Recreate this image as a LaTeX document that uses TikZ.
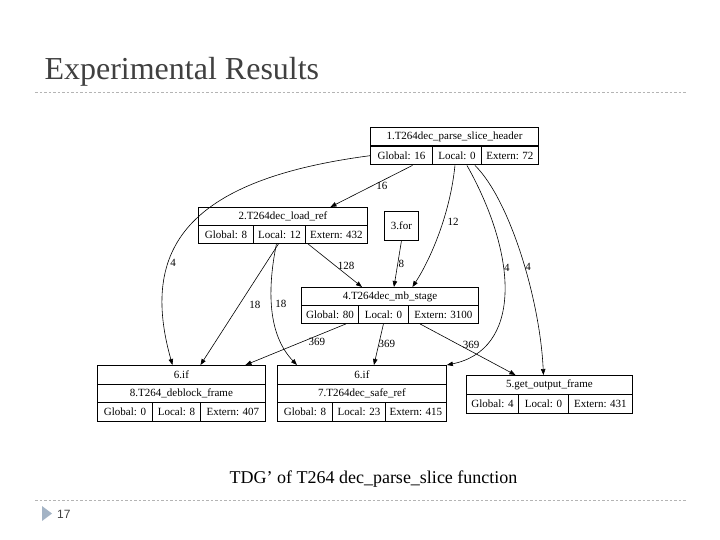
\documentclass[tikz,border=0pt]{standalone}
\usepackage{fontspec}
\setmainfont{Liberation Serif}
\setsansfont{Liberation Sans}
\usetikzlibrary{arrows.meta, positioning, calc}
\definecolor{titlegray}{HTML}{404040}
\definecolor{rulegray}{HTML}{B4B4B4}
\definecolor{bulletblue}{HTML}{A3B3C5}

\begin{document}
\begin{tikzpicture}[x=1pt, y=-1pt, font=\fontsize{11}{12}\selectfont,
  cell/.style={draw, line width=0.9pt, inner sep=0pt, anchor=north west, minimum height=18.5pt},
  a/.style={-{Triangle[length=6pt, width=4.5pt]}, line width=0.6pt, draw=black},
  lb/.style={inner sep=1.5pt},
  rule/.style={draw=rulegray, line width=0.8pt, dash pattern=on 2.5pt off 2pt}]
  \useasboundingbox (0,0) rectangle (720,540);
  \node[anchor=base west, text=titlegray, font=\fontsize{32}{36}\selectfont] (title) at (41,80) {Experimental Results};
  \draw[rule] (35,92) -- (687,92);
  % 1.T264dec_parse_slice_header
  \node[cell, minimum width=168pt] (hdr1) at (370,127) {1.T264dec\_parse\_slice\_header};
  \node[cell, minimum width=62pt] (g1) at (370,146) {Global: 16};
  \node[cell, minimum width=49pt] (l1) at (432,146) {Local: 0};
  \node[cell, minimum width=57pt] (e1) at (481,146) {Extern: 72};
  % 2.T264dec_load_ref
  \node[cell, minimum width=169pt, minimum height=18pt] (hdr2) at (198,207) {2.T264dec\_load\_ref};
  \node[cell, minimum width=55pt, minimum height=18pt] (g2) at (198,225) {Global: 8};
  \node[cell, minimum width=52pt, minimum height=18pt] (l2) at (253,225) {Local: 12};
  \node[cell, minimum width=62pt, minimum height=18pt] (e2) at (305,225) {Extern: 432};
  % 3.for
  \node[cell, minimum width=34pt, minimum height=29pt] (for3) at (384,211) {3.for};
  % 4.T264dec_mb_stage
  \node[cell, minimum width=177pt, minimum height=18pt] (hdr4) at (301,287) {4.T264dec\_mb\_stage};
  \node[cell, minimum width=57pt, minimum height=18pt] (g4) at (301,305) {Global: 80};
  \node[cell, minimum width=50pt, minimum height=18pt] (l4) at (358,305) {Local: 0};
  \node[cell, minimum width=70pt, minimum height=18pt] (e4) at (408,305) {Extern: 3100};
  % 6.if / 8.T264_deblock_frame
  \node[cell, minimum width=168pt] (if8) at (97,365) {6.if};
  \node[cell, minimum width=168pt] (blk8) at (97,383.5) {8.T264\_deblock\_frame};
  \node[cell, minimum width=55pt] (g8) at (97,402) {Global: 0};
  \node[cell, minimum width=48pt] (l8) at (152,402) {Local: 8};
  \node[cell, minimum width=65pt] (e8) at (200,402) {Extern: 407};
  % 6.if / 7.T264dec_safe_ref
  \node[cell, minimum width=169pt] (if7) at (277,365) {6.if};
  \node[cell, minimum width=169pt] (ref7) at (277,383.5) {7.T264dec\_safe\_ref};
  \node[cell, minimum width=55pt] (g7) at (277,402) {Global: 8};
  \node[cell, minimum width=53pt] (l7) at (332,402) {Local: 23};
  \node[cell, minimum width=61pt] (e7) at (385,402) {Extern: 415};
  % 5.get_output_frame
  \node[cell, minimum width=166pt, minimum height=19pt] (hdr5) at (466,375) {5.get\_output\_frame};
  \node[cell, minimum width=52pt, minimum height=19pt] (g5) at (466,394) {Global: 4};
  \node[cell, minimum width=50pt, minimum height=19pt] (l5) at (518,394) {Local: 0};
  \node[cell, minimum width=64pt, minimum height=19pt] (e5) at (568,394) {Extern: 431};
  % edges
  \draw[a] ([xshift=11pt]g1.south) -- node[lb, pos=0.5, right=3pt] {16} ([xshift=47.5pt]hdr2.north);
  \draw[a] (g1.west) .. controls (185,180) and (140,250) .. node[lb, pos=0.66, right=0pt] {4} ([xshift=-9pt]if8.north);
  \draw[a] ([xshift=-2pt]l1.south) .. controls (450,215) and (430,260) .. node[lb, pos=0.4, right=3pt] {12} ([xshift=22.5pt]hdr4.north);
  \draw[a] ([xshift=10pt]l1.south) .. controls (520,260) and (520,350) .. node[lb, pos=0.38, right=-1pt] {4} (if7.north east);
  \draw[a] ([xshift=18pt]l1.south) .. controls (510,200) and (540,300) .. node[lb, pos=0.55, right=-1pt] {4} ([xshift=-6pt]hdr5.north);
  \draw[a] ([xshift=-1pt]l2.south) -- node[lb, pos=0.5, right=8pt] {18} ([xshift=19pt]if8.north);
  \draw[a] ([xshift=-3pt]l2.south) .. controls (267,290) and (268,335) .. node[lb, pos=0.45, right=2pt] {18} ([xshift=-65pt]if7.north);
  \draw[a] ([xshift=3pt]e2.south west) -- node[lb, pos=0.5, right=1pt] {128} ([xshift=-28pt]hdr4.north);
  \draw[a] (for3.south) -- node[lb, pos=0.5, right=-1pt] {8} ([xshift=4pt]hdr4.north);
  \draw[a] ([xshift=16pt]g4.south) -- node[lb, pos=0.45, right=6pt] {369} ([xshift=64pt]if8.north);
  \draw[a] (l4.south) -- node[lb, pos=0.48, right=-2pt] {369} ([xshift=12pt]if7.north);
  \draw[a] ([xshift=12pt]e4.south west) -- node[lb, pos=0.42, right=1pt] {369} ([xshift=-34pt]hdr5.north);
  % caption and footer
  \node[anchor=base, font=\fontsize{18}{20}\selectfont] (cap) at (373.5,483) {TDG’ of T264 dec\_parse\_slice function};
  \draw[rule] (35,500) -- (687,500);
  \fill[bulletblue] (42,506) -- (52,513.5) -- (42,521) -- cycle;
  \node[anchor=base west, text=titlegray, font=\sffamily\fontsize{12}{14}\selectfont, inner sep=0pt] (pagenum) at (57,518) {17};
\end{tikzpicture}
\end{document}
